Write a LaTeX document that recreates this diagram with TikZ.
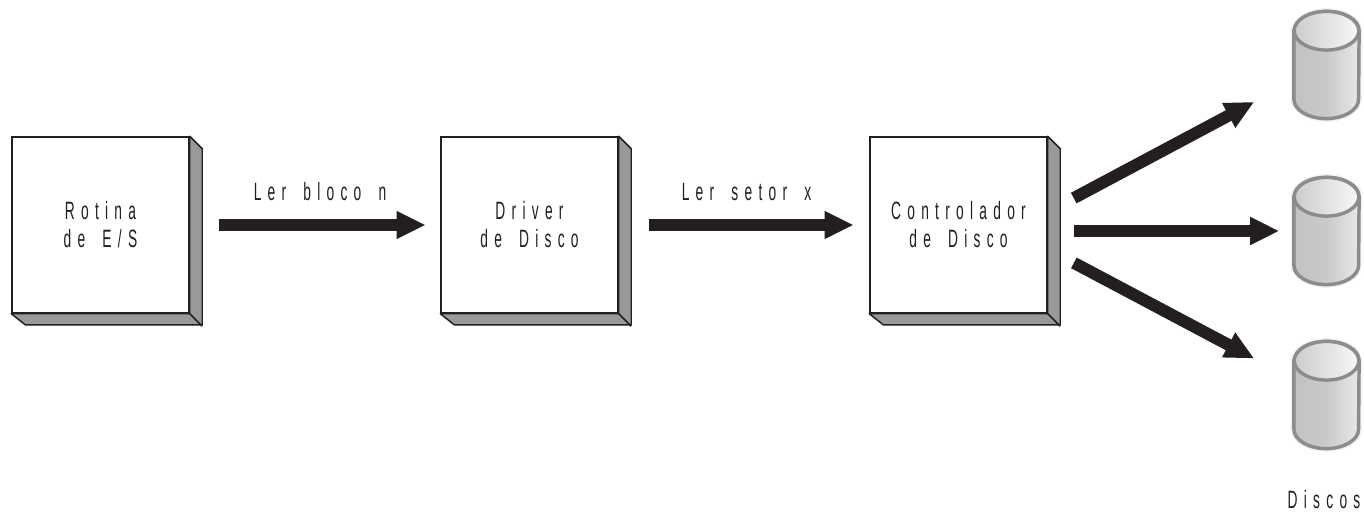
\documentclass[tikz,border=0pt]{standalone}
\usepackage{fontspec}
\usetikzlibrary{arrows.meta}
\newfontfamily\thinfont[LetterSpace=25,FakeStretch=0.55,WordSpace=1.7]{Liberation Sans}
\definecolor{sidegray}{HTML}{999999}
\definecolor{inkblack}{HTML}{231F20}
\definecolor{rimgray}{HTML}{8C8C8C}
\begin{document}
\begin{tikzpicture}[x=0.75pt,y=-0.75pt]
	\tikzset{label/.style = {text=inkblack,font=\thinfont\fontsize{18.8}{21}\selectfont,align=center,inner sep=0pt}}
	\tikzset{block/.style = {shape=rectangle,draw=inkblack,fill=white,line width=1.1pt,minimum width=132.75pt,minimum height=132pt,inner sep=0pt,label}}
	\tikzset{disk/.style = {shape=rectangle,minimum width=48.5pt,minimum height=80pt,inner sep=0pt}}
	\tikzset{fat/.style = {draw=inkblack,line width=9pt,-{Triangle[length=21.75pt,width=19.5pt,fill=inkblack]}}}
	\useasboundingbox (0,0) rectangle (1364,515);
	% boxes
	\node[block] (rotina) at (100.5,225) {Rotina\\de E/S};
	\node[block] (driver) at (529.5,225) {Driver\\de Disco};
	\node[block] (ctrl) at (958.5,225) {Controlador\\de Disco};
	\foreach \n in {rotina,driver,ctrl} {
		\draw[fill=sidegray,draw=inkblack,line width=1.1pt,line join=round] (\n.north east) -- ++(12.5,12.5) -- ++(0,176) -- ++(-177,0) -- (\n.south west) -- (\n.south east) -- cycle;
		\draw[draw=inkblack,line width=1.1pt] (\n.south east) -- ++(12.5,12.5);
	}
	% disks
	\node[disk] (discoa) at (1326.5,65) {};
	\node[disk] (discob) at (1326.5,231) {};
	\node[disk] (discoc) at (1326.5,395) {};
	\foreach \n in {discoa,discob,discoc} {
		\draw[draw=gray!10,line width=5pt] ([yshift=-14.5pt]\n.north west) -- ([yshift=14.5pt]\n.south west) arc[start angle=180,end angle=360,x radius=24.25pt,y radius=14.5pt] -- ([yshift=-14.5pt]\n.north east) arc[start angle=0,end angle=180,x radius=24.25pt,y radius=14.5pt] -- cycle;
		\draw[draw=rimgray,line width=2.6pt,left color=gray!48,right color=gray!18,middle color=gray!42] ([yshift=-14.5pt]\n.north west) -- ([yshift=14.5pt]\n.south west) arc[start angle=180,end angle=360,x radius=24.25pt,y radius=14.5pt] -- ([yshift=-14.5pt]\n.north east) arc[start angle=0,end angle=180,x radius=24.25pt,y radius=14.5pt] -- cycle;
		\draw[draw=rimgray,line width=2.6pt,left color=gray!40,right color=gray!6] ([yshift=-14.5pt]\n.north) ellipse[x radius=24.25pt,y radius=14.5pt];
	}
	\node[label] (discos) at (1324,500) {Discos};
	% arrows
	\path[fat,shorten <=21.75pt,shorten >=11pt] (rotina) edge node[label,pos=.52,above=14pt] {Ler bloco n} (driver);
	\path[fat,shorten <=22.5pt,shorten >=11.75pt] (driver) edge node[label,pos=.51,above=14pt] {Ler setor x} (ctrl);
	\draw[fat,shorten <=22.1pt,shorten >=33.7pt] ([yshift=9.8pt]ctrl.east) -- ([yshift=-11.8pt]discoa.west);
	\draw[fat,shorten <=19.5pt,shorten >=11pt] ([yshift=-4.5pt]ctrl.east) -- (discob.west);
	\draw[fat,shorten <=22.2pt,shorten >=33.7pt] ([yshift=-18pt]ctrl.east) -- ([yshift=11.6pt]discoc.west);
\end{tikzpicture}
\end{document}
